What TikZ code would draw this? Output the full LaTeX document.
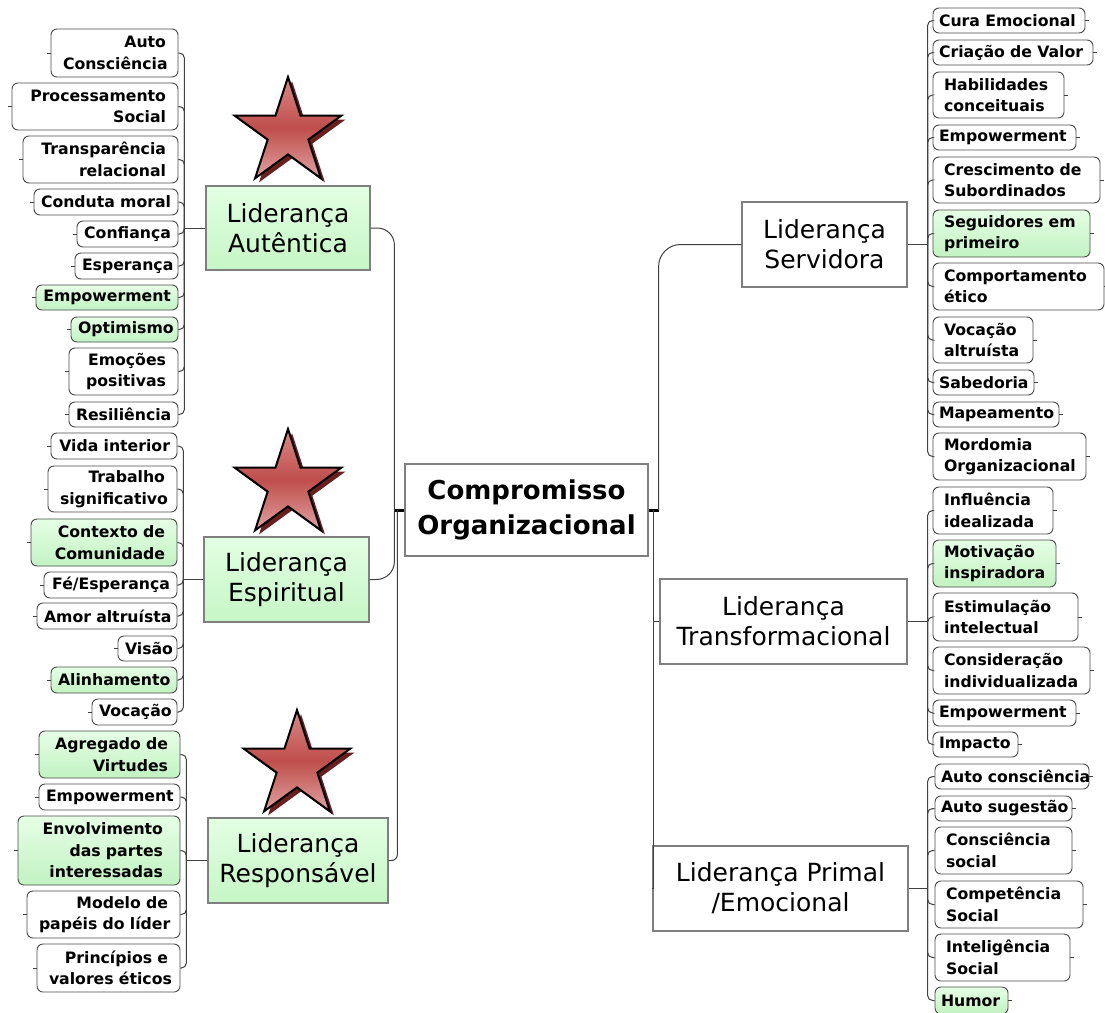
\documentclass[tikz,border=0pt]{standalone}
\usepackage{fontspec}
\setmainfont{DejaVu Sans}
\hyphenpenalty=10000
\exhyphenpenalty=10000

\definecolor{linegray}{HTML}{404040}
\definecolor{boxgray}{HTML}{4A4A4A}
\definecolor{leadgray}{HTML}{7F7F7F}
\definecolor{leaftop}{HTML}{E6FFE6}
\definecolor{leafbot}{HTML}{C2F2C2}
\definecolor{leadtop}{HTML}{E2FFE2}
\definecolor{leadbot}{HTML}{C6F6C6}
\definecolor{startop}{HTML}{D98A88}
\definecolor{starmid}{HTML}{BF4E4B}
\definecolor{starbot}{HTML}{E0A2A2}
\definecolor{starshade}{HTML}{6A1F1F}

\tikzset{
  conn/.style={draw=linegray, line width=1pt},
  kid/.style={draw=boxgray, line width=0.9pt, rounded corners=6pt, inner ysep=0pt,
    font=\bfseries\fontsize{15.7}{21.5}\selectfont, text=black},
  kidL/.style={align=right},
  kidR/.style={align=left},
  plain/.style={fill=white},
  leaf/.style={top color=leaftop, bottom color=leafbot},
  lead/.style={draw=leadgray, line width=1.2pt, inner sep=0pt, align=center,
    font=\fontsize{25}{30}\selectfont, text=black},
  leadgreen/.style={top color=leadtop, bottom color=leadbot},
  hub/.style={draw=leadgray, line width=1.2pt, fill=white, inner sep=0pt, align=center,
    font=\bfseries\fontsize{26}{35}\selectfont, text=black},
  hubstub/.style={draw=black, line width=3pt},
  tick/.style={draw=linegray, line width=0.8pt},
  starbody/.style={top color=startop, bottom color=starbot, middle color=starmid,
    draw=black, line width=2pt, line join=miter},
  starshadow/.style={fill=starshade},
}

% child box: name, style, padding, x1, y1, x2, y2, text
\newcommand\kidbox[8]{%
  \pgfmathsetmacro\kbtw{#6-#4-2*#3}%
  \pgfmathsetmacro\kbh{#7-#5}%
  \node[kid,#2,inner xsep=#3pt,text width=\kbtw pt,minimum height=\kbh pt]
    (#1) at ({(#4+#6)/2},{(#5+#7)/2}) {#8};}

% leadership box: name, style, x1, y1, x2, y2, text
\newcommand\leadbox[7]{%
  \pgfmathsetmacro\lbw{#5-#3}%
  \pgfmathsetmacro\lbh{#6-#4}%
  \node[lead,#2,minimum width=\lbw pt,minimum height=\lbh pt]
    (#1) at ({(#3+#5)/2},{(#4+#6)/2}) {#7};}

% five-pointed star outline around the origin
\def\starpath{(-90:56) -- (-54:21.4) -- (-18:56) -- (18:21.4) -- (54:56) -- (90:21.4)
  -- (126:56) -- (162:21.4) -- (198:56) -- (234:21.4) -- cycle}
\newcommand\redstar[2]{%
  \fill[starshadow, shift={(#1+4,#2+4)}] \starpath;
  \shadedraw[starbody, shift={(#1,#2)}] \starpath;}

\begin{document}
\begin{tikzpicture}[x=1pt,y=-1pt]
\useasboundingbox (0,0) rectangle (1105,1012);
\fill[white] (0,0) rectangle (1105,1012);

% central node
\node[hub, minimum width=243pt, minimum height=92pt] (hubnode) at (526.5,510)
  {Compromisso\\Organizacional};
\draw[hubstub] (hubnode.west) -- ++(-10,0) coordinate (lhub);
\draw[hubstub] (hubnode.east) -- ++(10,0) coordinate (rhub);

% leadership styles
\leadbox{aut}{leadgreen}{206}{186}{370}{270}{Liderança\\Autêntica}
\leadbox{esp}{leadgreen}{204}{537}{369}{622}{Liderança\\Espiritual}
\leadbox{rsp}{leadgreen}{208}{818}{388}{903}{Liderança\\Responsável}
\leadbox{srv}{plain}{742}{202}{907}{287}{Liderança\\Servidora}
\leadbox{trf}{plain}{660}{579}{907}{664}{Liderança\\Transformacional}
\leadbox{prm}{plain}{653}{846}{908}{931}{Liderança~Primal\\/Emocional}

% stars
\redstar{288}{133}
\redstar{288}{485}
\redstar{297}{766}

% Liderança Autêntica
\kidbox{ac1}{kidL,plain}{12}{51}{29}{178}{77}{Auto\\Consciência}
\kidbox{ac2}{kidL,plain}{12}{12}{83}{178}{130}{Processamento\\Social}
\kidbox{ac3}{kidL,plain}{12}{23}{136}{178}{183}{Transparência\\relacional}
\kidbox{ac4}{kidL,plain}{7}{34}{189}{178}{215}{Conduta~moral}
\kidbox{ac5}{kidL,plain}{7}{77}{221}{178}{247}{Confiança}
\kidbox{ac6}{kidL,plain}{7}{75}{253}{178}{279}{Esperança}
\kidbox{ac7}{kidL,leaf}{7}{36}{285}{178}{310}{Empowerment}
\kidbox{ac8}{kidL,leaf}{7}{71}{317}{178}{342}{Optimismo}
\kidbox{ac9}{kidL,plain}{12}{69}{348}{178}{395}{Emoções\\positivas}
\kidbox{ac10}{kidL,plain}{7}{69}{402}{178}{427}{Resiliência}

% Liderança Espiritual
\kidbox{es1}{kidL,plain}{7}{51}{433}{177}{459}{Vida~interior}
\kidbox{es2}{kidL,plain}{12}{48}{466}{177}{512}{Trabalho\\significativo}
\kidbox{es3}{kidL,leaf}{12}{31}{519}{177}{566}{Contexto~de\\Comunidade}
\kidbox{es4}{kidL,plain}{7}{44}{572}{177}{598}{Fé/Esperança}
\kidbox{es5}{kidL,plain}{7}{37}{603}{177}{629}{Amor~altruísta}
\kidbox{es6}{kidL,plain}{7}{118}{636}{177}{661}{Visão}
\kidbox{es7}{kidL,leaf}{7}{51}{667}{177}{693}{Alinhamento}
\kidbox{es8}{kidL,plain}{7}{92}{699}{177}{725}{Vocação}

% Liderança Responsável
\kidbox{rs1}{kidL,leaf}{12}{39}{731}{180}{778}{Agregado~de\\Virtudes}
\kidbox{rs2}{kidL,plain}{7}{39}{784}{180}{810}{Empowerment}
\kidbox{rs3}{kidL,leaf}{17}{18}{816}{180}{885}{Envolvimento\\das~partes\\interessadas}
\kidbox{rs4}{kidL,plain}{12}{27}{891}{180}{938}{Modelo~de\\papéis~do~líder}
\kidbox{rs5}{kidL,plain}{12}{37}{944}{180}{992}{Princípios~e\\valores~éticos}

% Liderança Servidora
\kidbox{sv1}{kidR,plain}{6}{933}{8}{1085}{33}{Cura~Emocional}
\kidbox{sv2}{kidR,plain}{6}{933}{40}{1093}{65}{Criação~de~Valor}
\kidbox{sv3}{kidR,plain}{11}{933}{72}{1064}{118}{Habilidades\\conceituais}
\kidbox{sv4}{kidR,plain}{6}{933}{125}{1076}{150}{Empowerment}
\kidbox{sv5}{kidR,plain}{11}{933}{157}{1100}{203}{Crescimento~de\\Subordinados}
\kidbox{sv6}{kidR,leaf}{11}{933}{210}{1090}{257}{Seguidores~em\\primeiro}
\kidbox{sv7}{kidR,plain}{11}{933}{263}{1104}{310}{Comportamento\\ético}
\kidbox{sv8}{kidR,plain}{11}{933}{317}{1033}{363}{Vocação\\altruísta}
\kidbox{sv9}{kidR,plain}{6}{933}{370}{1034}{395}{Sabedoria}
\kidbox{sv10}{kidR,plain}{6}{933}{402}{1059}{427}{Mapeamento}
\kidbox{sv11}{kidR,plain}{11}{933}{433}{1086}{480}{Mordomia\\Organizacional}

% Liderança Transformacional
\kidbox{tf1}{kidR,plain}{11}{933}{487}{1053}{534}{Influência\\idealizada}
\kidbox{tf2}{kidR,leaf}{11}{933}{540}{1056}{587}{Motivação\\inspiradora}
\kidbox{tf3}{kidR,plain}{11}{933}{593}{1078}{641}{Estimulação\\intelectual}
\kidbox{tf4}{kidR,plain}{11}{933}{647}{1090}{694}{Consideração\\individualizada}
\kidbox{tf5}{kidR,plain}{6}{933}{700}{1076}{726}{Empowerment}
\kidbox{tf6}{kidR,plain}{6}{933}{732}{1018}{757}{Impacto}

% Liderança Primal / Emocional
\kidbox{pm1}{kidR,plain}{6}{935}{764}{1089}{789}{Auto~consciência}
\kidbox{pm2}{kidR,plain}{6}{935}{796}{1072}{821}{Auto~sugestão}
\kidbox{pm3}{kidR,plain}{11}{935}{827}{1072}{874}{Consciência\\social}
\kidbox{pm4}{kidR,plain}{11}{935}{881}{1083}{928}{Competência\\Social}
\kidbox{pm5}{kidR,plain}{11}{935}{934}{1070}{981}{Inteligência\\Social}
\kidbox{pm6}{kidR,leaf}{6}{935}{987}{1008}{1014}{Humor}

% main branches from the central node
\draw[conn, rounded corners=17pt] (lhub) |- (aut.east);
\draw[conn, rounded corners=18pt] (lhub) |- (esp.east);
\draw[conn, rounded corners=6pt] ([xshift=3pt]lhub) |- (rsp.east);
\draw[conn, rounded corners=22pt] (rhub) |- (srv.west);
\draw[conn] ([xshift=-5pt]rhub) |- (trf.west);
\draw[conn] ([xshift=-5pt]rhub) |- (prm.west);

% sub-branches
\draw[conn] (aut.west) -- ++(-21,0) coordinate (autj);
\draw[conn] (esp.west) -- ++(-20,0) coordinate (espj);
\draw[conn] (rsp.west) -- ++(-21,0) coordinate (rspj);
\draw[conn] (srv.east) -- ++(20,0) coordinate (srvj);
\draw[conn] (trf.east) -- ++(20,0) coordinate (trfj);
\draw[conn] (prm.east) -- ++(19,0) coordinate (prmj);

\foreach \c in {ac1,ac2,ac3,ac4,ac5,ac6,ac7,ac8,ac9,ac10}
  {\draw[conn, rounded corners=5pt] (autj) |- (\c.east);
   \draw[tick] (\c.west) -- ++(-4,0);}
\foreach \c in {es1,es2,es3,es4,es5,es6,es7,es8}
  {\draw[conn, rounded corners=5pt] (espj) |- (\c.east);
   \draw[tick] (\c.west) -- ++(-4,0);}
\foreach \c in {rs1,rs2,rs3,rs4,rs5}
  {\draw[conn, rounded corners=5pt] (rspj) |- (\c.east);
   \draw[tick] (\c.west) -- ++(-4,0);}
\foreach \c in {sv1,sv2,sv3,sv4,sv5,sv6,sv7,sv8,sv9,sv10,sv11}
  {\draw[conn, rounded corners=5pt] (srvj) |- (\c.west);
   \draw[tick] (\c.east) -- ++(4,0);}
\foreach \c in {tf1,tf2,tf3,tf4,tf5,tf6}
  {\draw[conn, rounded corners=5pt] (trfj) |- (\c.west);
   \draw[tick] (\c.east) -- ++(4,0);}
\foreach \c in {pm1,pm2,pm3,pm4,pm5,pm6}
  {\draw[conn, rounded corners=5pt] (prmj) |- (\c.west);
   \draw[tick] (\c.east) -- ++(4,0);}
\end{tikzpicture}
\end{document}
